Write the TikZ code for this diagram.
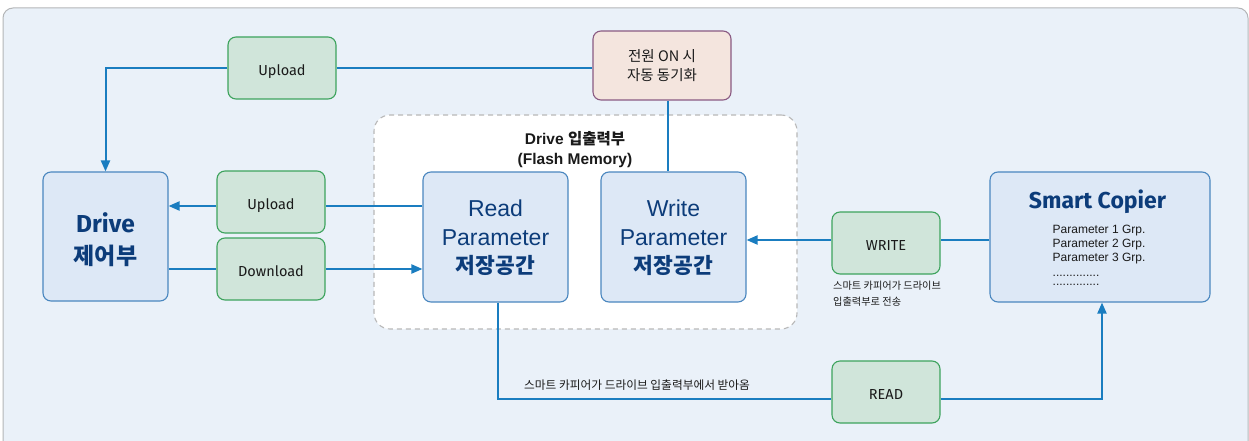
\documentclass[tikz,border=0pt]{standalone}
\usepackage{fontspec}
\setmainfont{Liberation Sans}
\newfontfamily\fira{Fira Sans}
\newfontfamily\kr{Noto Sans CJK KR}
\usetikzlibrary{arrows.meta}
\definecolor{bg}{HTML}{EAF1F9}
\definecolor{framegrey}{HTML}{B4B6B8}
\definecolor{lineblue}{HTML}{1A7DC0}
\definecolor{boxfill}{HTML}{DDE8F6}
\definecolor{boxline}{HTML}{4A87BF}
\definecolor{navy}{HTML}{0C3C7A}
\definecolor{gfill}{HTML}{D0E5DA}
\definecolor{gline}{HTML}{3DA35D}
\definecolor{pfill}{HTML}{F4E5DE}
\definecolor{pline}{HTML}{8A5A82}
\definecolor{dashgrey}{HTML}{B8B8B8}
\definecolor{txt}{HTML}{1A1A1A}
\tikzset{
  bluebox/.style={draw=boxline, fill=boxfill, rounded corners=8pt, line width=1.1pt, inner sep=0pt},
  gbox/.style={draw=gline, fill=gfill, rounded corners=8pt, line width=1.1pt, inner sep=0pt,
    minimum width=108pt, minimum height=62pt, text=txt, text height=14.5pt, text depth=0pt,
    font=\fira\fontsize{14.5}{17}\selectfont},
  conn/.style={draw=lineblue, line width=2pt},
  arr/.style={conn, -{Triangle[length=11pt,width=9pt]}},
  smalltxt/.style={text=txt, inner sep=0pt},
}
\begin{document}
\begin{tikzpicture}[x=1pt,y=-1pt]
\useasboundingbox (0,0) rectangle (1249,441);
\clip (0,0) rectangle (1249,441);
\fill[white] (0,0) rectangle (1249,441);
\draw[draw=framegrey, fill=bg, rounded corners=10pt, line width=1pt] (3,8) rectangle (1248,470);

% dashed container
\node[draw=dashgrey, fill=white, dashed, dash pattern=on 5pt off 4pt, rounded corners=16pt,
  line width=1.1pt, minimum width=423pt, minimum height=214pt, inner sep=0pt] (io) at (585.5,222) {};
\node[inner sep=0pt, align=center, text=txt, font=\bfseries\fontsize{15.5}{20}\selectfont] (iot) at (575,150)
  {Drive {\kr\bfseries 입출력부}\\(Flash Memory)};

% boxes
\node[gbox] (upT) at (282,68) {Upload};
\node[draw=pline, fill=pfill, rounded corners=8pt, line width=1.1pt, inner sep=0pt,
  minimum width=138pt, minimum height=69pt, align=center, text=txt,
  font=\kr\fontsize{14.5}{18.5}\selectfont] (pw) at (662,65.5) {전원 ON 시\\자동 동기화};

\node[bluebox, minimum width=125pt, minimum height=129pt] (dr) at (105.5,236.5) {};
\node[inner sep=0pt, align=center, text=navy, font=\fontsize{23}{32}\selectfont] (drt) at (105.5,240)
  {{\fira\bfseries\fontsize{24.5}{32}\selectfont Drive}\\\kr\bfseries 제어부};

\node[gbox] (upM) at (271,202) {Upload};
\node[gbox] (dl) at (271,269) {Download};

\node[bluebox, minimum width=145pt, minimum height=130pt] (rd) at (495.5,237) {};
\node[inner sep=0pt, align=center, text=navy, font=\fontsize{23}{28.5}\selectfont] (rdt) at (495.5,238)
  {Read\\Parameter\\{\kr\bfseries\fontsize{21.5}{28.5}\selectfont 저장공간}};
\node[bluebox, minimum width=145pt, minimum height=130pt] (wr) at (673.5,237) {};
\node[inner sep=0pt, align=center, text=navy, font=\fontsize{23}{28.5}\selectfont] (wrt) at (673.5,238)
  {Write\\Parameter\\{\kr\bfseries\fontsize{21.5}{28.5}\selectfont 저장공간}};

\node[gbox] (wb) at (886,243) {WRITE};
\node[smalltxt, anchor=base west, align=left, font=\kr\fontsize{10.2}{16}\selectfont] (wcap) at (833,305)
  {스마트 카피어가 드라이브\\입출력부로 전송};

\node[bluebox, minimum width=220pt, minimum height=130pt] (sc) at (1100,237) {};
\node[inner sep=0pt, anchor=base, text=navy, font=\fira\bfseries\fontsize{23}{27}\selectfont] (sct) at (1097.5,208) {Smart Copier};
\node[inner sep=0pt, anchor=base west, align=left, text=txt, font=\fontsize{12}{14.2}\selectfont] (scl) at (1052.5,261.7)
  {Parameter 1 Grp.\\Parameter 2 Grp.\\Parameter 3 Grp.};
\node[inner sep=0pt, anchor=base west, text=txt, font=\fontsize{12}{14}\selectfont] (scd1) at (1052.5,276) {..............};
\node[inner sep=0pt, anchor=base west, text=txt, font=\fontsize{12}{14}\selectfont] (scd2) at (1052.5,285.5) {..............};

\node[gbox] (rb) at (886,392) {READ};
\node[smalltxt, anchor=base west, font=\kr\fontsize{11.7}{16}\selectfont] (rcap) at (524,389) {스마트 카피어가 드라이브 입출력부에서 받아옴};

% helper coordinates
\coordinate (yU) at (0,206);
\coordinate (yD) at (0,269);
\coordinate (yW) at (0,240);
\coordinate (yR) at (0,399);
\coordinate (xV) at (668,0);
\coordinate (xR) at (498,0);
\coordinate (xS) at (1102,0);

% connectors
\draw[arr] (upT.west) -| (dr.north);
\draw[conn] (upT.east) -- (upT.east -| pw.west);
\draw[conn] (pw.south -| xV) -- (wr.north -| xV);
\draw[conn] (rd.west |- yU) -- (upM.east |- yU);
\draw[arr] (upM.west |- yU) -- (dr.east |- yU);
\draw[conn] (dr.east |- yD) -- (dl.west |- yD);
\draw[arr] (dl.east |- yD) -- (rd.west |- yD);
\draw[conn] (sc.west |- yW) -- (wb.east |- yW);
\draw[arr] (wb.west |- yW) -- (wr.east |- yW);
\draw[conn] (rd.south -| xR) |- (rb.west |- yR);
\draw[arr] (rb.east |- yR) -| (sc.south -| xS);
\end{tikzpicture}
\end{document}
